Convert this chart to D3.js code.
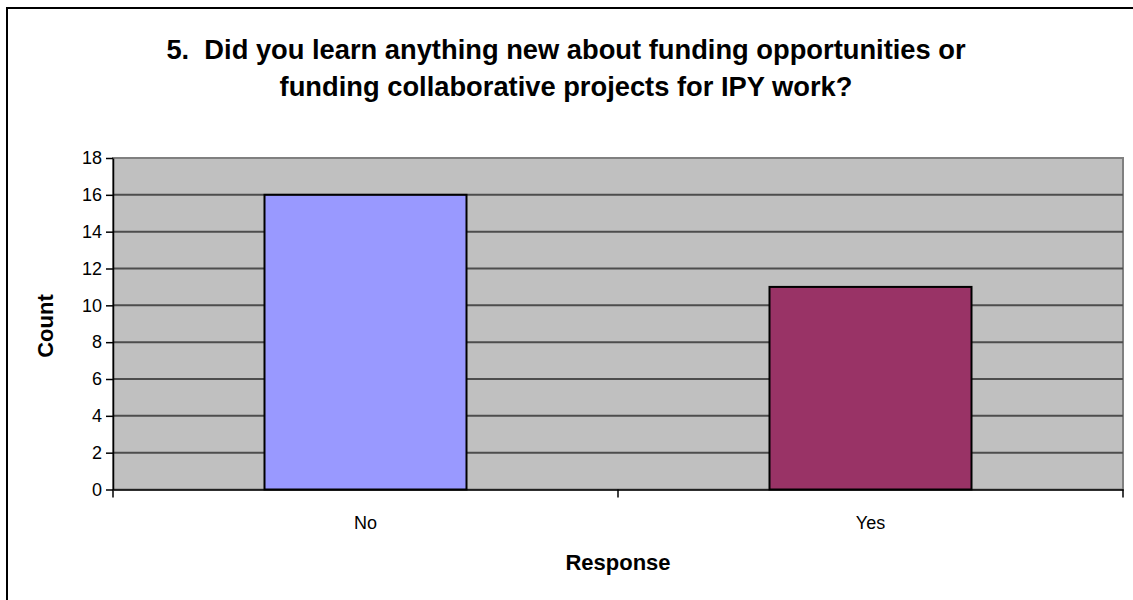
<!DOCTYPE html>
<html>
<head>
<meta charset="utf-8">
<script src="https://cdn.jsdelivr.net/npm/d3@7/dist/d3.min.js"></script>
<style>
  html, body { margin: 0; padding: 0; background: #fff; }
  svg { display: block; font-family: "Liberation Sans", Arial, sans-serif; }
  text { white-space: pre; }
</style>
</head>
<body>
<svg id="chart" width="1133" height="600"></svg>
<script>
// Survey responses
const categories = ["No", "Yes"];
const counts = [16, 11];
const barColors = ["#9999FF", "#993366"];
const yTicks = [0, 2, 4, 6, 8, 10, 12, 14, 16, 18];
const titleLines = [
  "5.  Did you learn anything new about funding opportunities or",
  "funding collaborative projects for IPY work?"
];
const xTitle = "Response";
const yTitle = "Count";

const svg = d3.select("#chart");
const plot = { left: 113, right: 1123, top: 158, bottom: 489.5 };

// Outer chart frame (only left and top edges fall inside the page)
svg.append("rect")
  .attr("x", 7).attr("y", 8)
  .attr("width", 1200).attr("height", 700)
  .attr("fill", "#fff").attr("stroke", "#000").attr("stroke-width", 2);

const x = d3.scaleBand()
  .domain(categories)
  .range([plot.left, plot.right])
  .paddingInner(0.6)
  .paddingOuter(0.3);

const y = d3.scaleLinear()
  .domain([0, 18])
  .range([plot.bottom, plot.top]);

// Plot background
svg.append("rect")
  .attr("x", plot.left).attr("y", plot.top)
  .attr("width", plot.right - plot.left)
  .attr("height", plot.bottom - plot.top)
  .attr("fill", "#C0C0C0")
  .attr("stroke", "#808080").attr("stroke-width", 2);

// Horizontal gridlines
svg.append("g")
  .selectAll("line")
  .data(yTicks.filter(t => t > 0 && t < 18))
  .join("line")
  .attr("x1", plot.left).attr("x2", plot.right)
  .attr("y1", d => y(d)).attr("y2", d => y(d))
  .attr("stroke", "#4d4d4d").attr("stroke-width", 2);

// Bars
svg.append("g")
  .selectAll("rect")
  .data(categories.map((c, i) => ({ c, v: counts[i], color: barColors[i] })))
  .join("rect")
  .attr("x", d => x(d.c))
  .attr("y", d => y(d.v))
  .attr("width", x.bandwidth())
  .attr("height", d => y(0) - y(d.v))
  .attr("fill", d => d.color)
  .attr("stroke", "#000").attr("stroke-width", 2);

// Y axis
const yAxis = svg.append("g")
  .attr("transform", `translate(${plot.left},0)`)
  .call(d3.axisLeft(y).tickValues(yTicks).tickSize(7).tickPadding(4).tickSizeOuter(0));
yAxis.select(".domain").attr("stroke", "#000").attr("stroke-width", 1.5);
yAxis.selectAll(".tick line").attr("stroke", "#000").attr("stroke-width", 1.5);
yAxis.selectAll(".tick text")
  .attr("font-size", 18).attr("fill", "#000")
  .style("font-family", "'Liberation Sans', Arial, sans-serif");

// X axis with category labels and boundary tick marks
const xAxis = svg.append("g")
  .attr("transform", `translate(0,${plot.bottom})`)
  .call(d3.axisBottom(x).tickSize(0).tickPadding(27).tickSizeOuter(0));
xAxis.select(".domain").attr("stroke", "#000").attr("stroke-width", 1.5);
xAxis.selectAll(".tick text")
  .attr("font-size", 18).attr("fill", "#000")
  .style("font-family", "'Liberation Sans', Arial, sans-serif");

const boundaries = [plot.left, (plot.left + plot.right) / 2, plot.right];
xAxis.append("g")
  .selectAll("line")
  .data(boundaries)
  .join("line")
  .attr("x1", d => d).attr("x2", d => d)
  .attr("y1", 0).attr("y2", 8)
  .attr("stroke", "#000").attr("stroke-width", 1.5);

// Title
svg.append("text")
  .attr("text-anchor", "middle")
  .attr("font-size", 27.3).attr("font-weight", "bold")
  .selectAll("tspan")
  .data(titleLines)
  .join("tspan")
  .attr("x", 566)
  .attr("y", (d, i) => 59 + i * 37)
  .text(d => d);

// Axis titles
svg.append("text")
  .attr("x", 618).attr("y", 570)
  .attr("text-anchor", "middle")
  .attr("font-size", 22).attr("font-weight", "bold")
  .text(xTitle);

svg.append("text")
  .attr("transform", "translate(53,326) rotate(-90)")
  .attr("text-anchor", "middle")
  .attr("font-size", 22).attr("font-weight", "bold")
  .text(yTitle);
</script>
</body>
</html>
